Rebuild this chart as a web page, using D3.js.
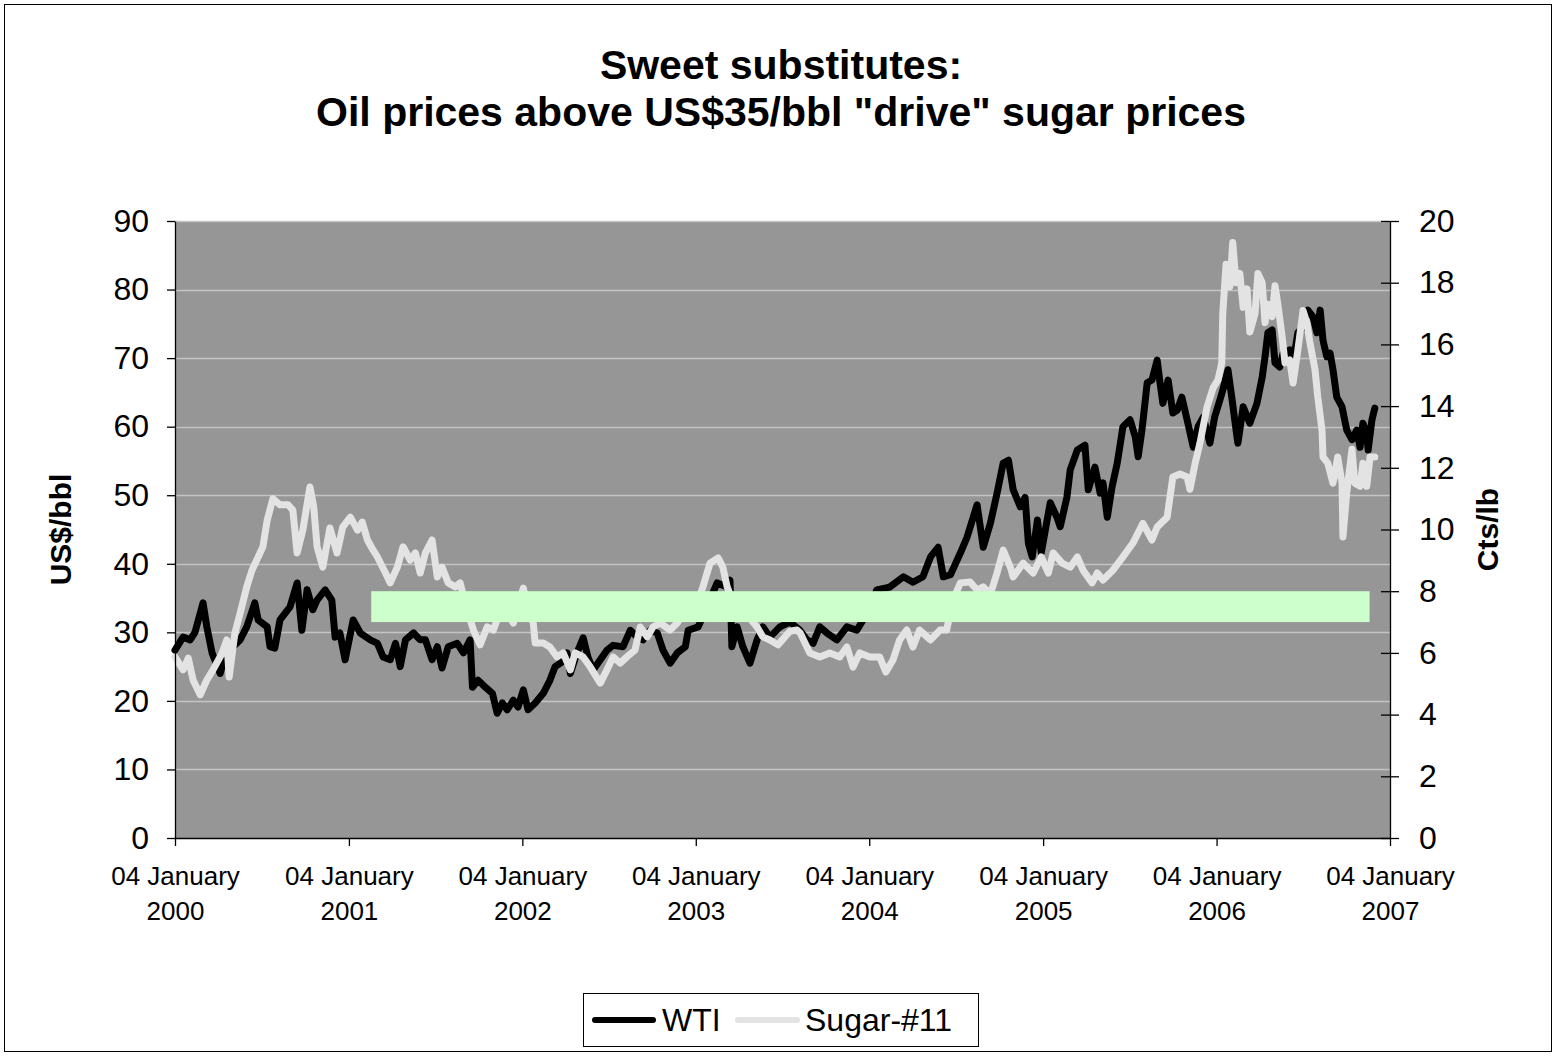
<!DOCTYPE html>
<html>
<head>
<meta charset="utf-8">
<script src="https://cdn.jsdelivr.net/npm/d3@7"></script>
<style>
  html, body { margin: 0; padding: 0; background: #fff; }
  svg { display: block; }
  text { font-family: "Liberation Sans", Arial, sans-serif; fill: #000; }
</style>
</head>
<body>
<svg id="chart" width="1556" height="1056"></svg>
<script>
// ---- data ----
const titleLines = ["Sweet substitutes:", "Oil prices above US$35/bbl \"drive\" sugar prices"];
const leftAxisTitle = "US$/bbl";
const rightAxisTitle = "Cts/lb";
const seriesNames = ["WTI", "Sugar-#11"];
const yearTicks = ["2000-01-04", "2001-01-04", "2002-01-04", "2003-01-04", "2004-01-04", "2005-01-04", "2006-01-04", "2007-01-04"];
const leftTicks = [0, 10, 20, 30, 40, 50, 60, 70, 80, 90];
const rightTicks = [0, 2, 4, 6, 8, 10, 12, 14, 16, 18, 20];

// shaded sugar band (cts/lb)
const bandDates = ["2001-02-20", "2006-11-22"];
const bandRange = [7, 8];

// WTI crude, US$/bbl
const wti = [
  ["2000-01-04",27.4],["2000-01-21",29.3],["2000-02-05",28.9],["2000-02-15",30.0],["2000-03-03",34.3],["2000-03-11",30.8],["2000-03-22",27.0],["2000-04-08",24.0],["2000-04-14",25.5],["2000-05-05",27.9],["2000-05-20",28.9],["2000-06-03",30.8],["2000-06-20",34.3],["2000-06-27",31.8],["2000-07-16",30.8],["2000-07-22",27.9],["2000-08-01",27.7],["2000-08-12",31.8],["2000-09-02",33.7],["2000-09-17",37.2],["2000-09-27",30.3],["2000-10-08",36.2],["2000-10-20",33.3],["2000-10-29",34.7],["2000-11-15",36.2],["2000-11-29",34.7],["2000-12-06",29.3],["2000-12-16",29.9],["2000-12-27",26.0],
  ["2001-01-13",31.8],["2001-01-28",29.9],["2001-02-18",28.9],["2001-03-05",28.4],["2001-03-17",26.4],["2001-04-01",26.0],["2001-04-12",28.4],["2001-04-22",25.0],["2001-05-03",28.9],["2001-05-20",29.9],["2001-06-03",28.9],["2001-06-14",28.9],["2001-06-28",26.0],["2001-07-09",27.9],["2001-07-19",24.8],["2001-08-01",27.9],["2001-08-20",28.4],["2001-09-02",27.0],["2001-09-16",28.9],["2001-09-21",22.0],["2001-10-03",23.0],["2001-10-18",22.0],["2001-11-02",21.1],["2001-11-12",18.2],["2001-11-23",19.7],["2001-12-03",18.7],["2001-12-16",20.1],["2001-12-26",19.1],
  ["2002-01-06",21.6],["2002-01-16",18.7],["2002-01-31",19.7],["2002-02-17",21.1],["2002-03-03",23.0],["2002-03-14",25.0],["2002-03-29",25.7],["2002-04-08",27.0],["2002-04-15",24.0],["2002-04-29",27.0],["2002-05-12",29.2],["2002-05-22",26.4],["2002-06-02",24.5],["2002-06-17",26.0],["2002-07-01",27.4],["2002-07-14",28.1],["2002-08-04",27.9],["2002-08-19",30.3],["2002-09-03",29.3],["2002-09-15",28.9],["2002-09-30",30.3],["2002-10-15",29.9],["2002-10-27",27.4],["2002-11-11",25.5],["2002-11-26",27.0],["2002-12-13",27.9],["2002-12-19",30.3],
  ["2003-01-09",30.8],["2003-01-23",33.0],["2003-02-18",37.2],["2003-03-11",36.6],["2003-03-17",37.6],["2003-03-21",27.9],["2003-04-01",30.8],["2003-04-13",27.9],["2003-04-28",25.5],["2003-05-13",28.9],["2003-05-25",30.8],["2003-06-09",29.3],["2003-06-30",30.8],["2003-07-21",31.5],["2003-08-11",30.3],["2003-08-26",28.9],["2003-09-08",28.4],["2003-09-22",30.8],["2003-10-07",29.9],["2003-10-28",28.9],["2003-11-18",30.8],["2003-12-09",30.3],["2003-12-22",31.8],
  ["2004-01-05",33.5],["2004-01-20",36.2],["2004-02-16",36.6],["2004-03-16",38.1],["2004-04-05",37.3],["2004-04-26",38.1],["2004-05-12",41.0],["2004-05-28",42.4],["2004-06-08",38.1],["2004-06-23",38.4],["2004-07-14",41.6],["2004-07-28",43.9],["2004-08-10",46.8],["2004-08-18",48.6],["2004-08-31",42.4],["2004-09-15",45.9],["2004-09-29",50.3],["2004-10-12",54.7],["2004-10-23",55.1],["2004-11-02",50.8],["2004-11-17",48.3],["2004-11-27",49.7],["2004-12-04",43.0],["2004-12-12",41.0],["2004-12-23",46.4],["2004-12-31",41.6],
  ["2005-01-19",48.9],["2005-02-02",46.8],["2005-02-09",45.4],["2005-02-23",49.7],["2005-03-02",53.7],["2005-03-17",56.6],["2005-04-02",57.3],["2005-04-09",50.8],["2005-04-23",54.1],["2005-05-04",50.3],["2005-05-10",51.8],["2005-05-19",46.8],["2005-05-29",51.2],["2005-06-09",54.7],["2005-06-21",60.0],["2005-07-06",61.0],["2005-07-17",58.5],["2005-07-23",55.6],["2005-07-31",59.5],["2005-08-11",66.4],["2005-08-21",66.8],["2005-09-01",69.7],["2005-09-07",66.4],["2005-09-13",63.4],["2005-09-24",66.8],["2005-10-04",62.0],["2005-10-13",62.4],["2005-10-23",64.3],["2005-11-03",61.0],["2005-11-16",57.0],["2005-11-26",60.0],["2005-12-07",61.4],["2005-12-21",57.6],["2005-12-31",61.4],
  ["2006-01-11",63.9],["2006-01-17",65.3],["2006-01-28",68.3],["2006-02-05",64.3],["2006-02-16",58.5],["2006-02-18",57.6],["2006-03-01",62.9],["2006-03-15",60.5],["2006-03-30",63.4],["2006-04-10",67.2],["2006-04-16",70.2],["2006-04-22",73.7],["2006-05-01",74.1],["2006-05-07",69.3],["2006-05-17",68.7],["2006-05-24",70.7],["2006-06-07",71.2],["2006-06-14",69.3],["2006-06-24",73.7],["2006-07-05",74.5],["2006-07-15",77.0],["2006-07-26",76.0],["2006-08-03",73.7],["2006-08-10",77.0],["2006-08-16",72.6],["2006-08-24",70.2],["2006-08-31",70.7],["2006-09-06",68.3],["2006-09-14",64.3],["2006-09-25",62.9],["2006-10-05",59.5],["2006-10-16",58.1],["2006-10-26",59.5],["2006-11-02",57.0],["2006-11-08",60.5],["2006-11-16",59.1],["2006-11-19",56.6],["2006-11-27",61.0],["2006-12-03",62.7]
];

// Sugar #11, US cents/lb
const sugar = [
  ["2000-01-04",5.87],["2000-01-21",5.45],["2000-02-01",5.83],["2000-02-11",5.12],["2000-02-26",4.64],["2000-03-11",5.12],["2000-03-24",5.45],["2000-04-12",5.99],["2000-04-22",6.42],["2000-04-27",5.22],["2000-05-09",6.64],["2000-05-20",7.28],["2000-06-03",8.14],["2000-06-14",8.68],["2000-06-27",9.11],["2000-07-07",9.44],["2000-07-16",10.3],["2000-07-28",11.0],["2000-08-12",10.8],["2000-08-29",10.8],["2000-09-08",10.63],["2000-09-17",9.24],["2000-09-29",9.98],["2000-10-14",11.38],["2000-10-22",10.73],["2000-10-29",9.44],["2000-11-10",8.78],["2000-11-25",10.05],["2000-12-10",9.24],["2000-12-22",10.08],
  ["2001-01-07",10.4],["2001-01-22",9.98],["2001-02-01",10.24],["2001-02-12",9.66],["2001-02-24",9.33],["2001-03-05",9.11],["2001-03-22",8.59],["2001-04-01",8.27],["2001-04-16",8.78],["2001-04-28",9.44],["2001-05-13",9.01],["2001-05-24",9.24],["2001-06-03",8.59],["2001-06-14",9.24],["2001-06-28",9.66],["2001-07-09",8.46],["2001-07-19",8.78],["2001-08-01",8.27],["2001-08-16",8.14],["2001-08-26",8.27],["2001-09-08",7.5],["2001-09-23",6.74],["2001-10-07",6.26],["2001-10-22",6.84],["2001-11-04",6.74],["2001-11-12",7.07],["2001-11-29",7.4],["2001-12-16",6.97],
  ["2002-01-06",8.1],["2002-01-16",7.4],["2002-01-27",6.97],["2002-01-31",6.32],["2002-02-17",6.32],["2002-03-03",6.19],["2002-03-18",5.87],["2002-03-31",6.0],["2002-04-15",5.45],["2002-04-25",6.0],["2002-05-12",5.87],["2002-05-27",5.54],["2002-06-17",5.02],["2002-07-01",5.45],["2002-07-14",5.87],["2002-07-29",5.67],["2002-08-12",5.87],["2002-08-29",6.09],["2002-09-09",6.84],["2002-09-24",6.52],["2002-10-06",6.84],["2002-10-21",6.97],["2002-11-11",6.74],["2002-11-26",6.97],["2002-12-17",7.5],
  ["2003-01-07",7.6],["2003-01-19",8.14],["2003-02-03",8.91],["2003-02-20",9.08],["2003-03-02",8.78],["2003-03-11",8.14],["2003-03-27",7.5],["2003-04-18",7.3],["2003-05-13",6.84],["2003-05-25",6.52],["2003-06-09",6.42],["2003-06-26",6.26],["2003-07-21",6.7],["2003-08-05",6.74],["2003-08-12",6.64],["2003-09-01",6.0],["2003-09-22",5.87],["2003-10-13",6.0],["2003-11-03",5.87],["2003-11-18",6.19],["2003-12-01",5.54],["2003-12-15",6.0],
  ["2004-01-05",5.87],["2004-01-26",5.87],["2004-02-08",5.38],["2004-02-23",5.77],["2004-03-08",6.42],["2004-03-23",6.74],["2004-04-05",6.19],["2004-04-19",6.74],["2004-05-12",6.42],["2004-06-01",6.74],["2004-06-15",6.74],["2004-06-28",7.71],["2004-07-14",8.27],["2004-08-03",8.3],["2004-08-18",8.04],["2004-08-31",8.14],["2004-09-15",7.9],["2004-09-29",8.59],["2004-10-12",9.33],["2004-10-27",8.78],["2004-11-02",8.46],["2004-11-23",8.91],["2004-12-14",8.59],["2004-12-31",9.11],
  ["2005-01-15",8.59],["2005-01-25",9.24],["2005-02-13",8.91],["2005-03-02",8.78],["2005-03-17",9.11],["2005-03-29",8.68],["2005-04-17",8.27],["2005-04-28",8.59],["2005-05-10",8.36],["2005-05-31",8.68],["2005-06-21",9.11],["2005-07-12",9.56],["2005-08-02",10.2],["2005-08-21",9.66],["2005-09-01",10.08],["2005-09-22",10.4],["2005-09-28",11.05],["2005-10-04",11.7],["2005-10-19",11.8],["2005-11-03",11.7],["2005-11-09",11.3],["2005-11-20",12.15],["2005-11-30",12.8],["2005-12-15",13.97],["2005-12-28",14.6],
  ["2006-01-07",14.85],["2006-01-15",15.4],["2006-01-17",17.0],["2006-01-24",18.6],["2006-02-01",17.86],["2006-02-07",19.3],["2006-02-14",18.0],["2006-02-22",18.3],["2006-03-01",17.2],["2006-03-09",17.8],["2006-03-15",16.4],["2006-03-26",17.0],["2006-04-01",18.3],["2006-04-10",18.0],["2006-04-16",16.7],["2006-04-22",17.3],["2006-05-01",16.9],["2006-05-07",17.9],["2006-05-13",17.3],["2006-05-22",16.25],["2006-05-28",15.4],["2006-06-07",15.5],["2006-06-14",14.75],["2006-06-24",15.8],["2006-07-05",17.1],["2006-07-13",16.7],["2006-07-19",16.1],["2006-07-30",15.2],["2006-08-05",14.3],["2006-08-14",13.2],["2006-08-16",12.35],["2006-08-26",12.15],["2006-09-06",11.5],["2006-09-16",12.35],["2006-09-25",11.5],["2006-09-27",9.76],["2006-10-05",11.2],["2006-10-16",12.6],["2006-10-22",11.5],["2006-11-02",11.4],["2006-11-08",12.15],["2006-11-16",11.4],["2006-11-23",12.35],["2006-12-03",12.35]
];

// ---- layout ----
const W = 1556, H = 1056;
const plot = { left: 175, right: 1390, top: 221, bottom: 838 };
const colors = { wti: "#000000", sugar: "#e3e3e3", plotBg: "#969696", grid: "#c4c4c4", band: "#ccffcc" };
const font = "'Liberation Sans', Arial, sans-serif";

const parse = d3.utcParse("%Y-%m-%d");
const svg = d3.select("#chart");

svg.append("rect").attr("x", 0).attr("y", 0).attr("width", W).attr("height", H).attr("fill", "#fff");
svg.append("rect").attr("x", 4.5).attr("y", 4.5).attr("width", W - 9).attr("height", H - 9)
  .attr("fill", "none").attr("stroke", "#000").attr("stroke-width", 1);

const x = d3.scaleUtc()
  .domain([parse(yearTicks[0]), parse(yearTicks[yearTicks.length - 1])])
  .range([plot.left, plot.right]);
const yL = d3.scaleLinear().domain([0, 90]).range([plot.bottom, plot.top]);
const yR = d3.scaleLinear().domain([0, 20]).range([plot.bottom, plot.top]);

// plot background
svg.append("rect")
  .attr("x", plot.left).attr("y", plot.top)
  .attr("width", plot.right - plot.left).attr("height", plot.bottom - plot.top)
  .attr("fill", colors.plotBg);

// horizontal gridlines on the left-axis ticks
svg.append("g").selectAll("line")
  .data(leftTicks.filter(v => v > 0))
  .join("line")
  .attr("x1", plot.left).attr("x2", plot.right)
  .attr("y1", d => Math.round(yL(d)) + 0.5).attr("y2", d => Math.round(yL(d)) + 0.5)
  .attr("stroke", colors.grid).attr("stroke-width", 1.5);

// series
const wtiPts = wti.map(([d, v]) => [parse(d), v]);
const sugarPts = sugar.map(([d, v]) => [parse(d), v]);

const lineL = d3.line().x(d => x(d[0])).y(d => yL(d[1]));
const lineR = d3.line().x(d => x(d[0])).y(d => yR(d[1]));

svg.append("path").datum(wtiPts)
  .attr("d", lineL).attr("fill", "none")
  .attr("stroke", colors.wti).attr("stroke-width", 7)
  .attr("stroke-linejoin", "round").attr("stroke-linecap", "round");

svg.append("path").datum(sugarPts)
  .attr("d", lineR).attr("fill", "none")
  .attr("stroke", colors.sugar).attr("stroke-width", 7)
  .attr("stroke-linejoin", "round").attr("stroke-linecap", "round");

// 7-8 cts/lb band on top of the series
svg.append("rect")
  .attr("x", x(parse(bandDates[0])))
  .attr("width", x(parse(bandDates[1])) - x(parse(bandDates[0])))
  .attr("y", yR(bandRange[1]))
  .attr("height", yR(bandRange[0]) - yR(bandRange[1]))
  .attr("fill", colors.band);

// left axis
const gL = svg.append("g").attr("transform", `translate(${plot.left},0)`)
  .call(d3.axisLeft(yL).tickValues(leftTicks).tickSize(8).tickSizeOuter(0).tickPadding(18).tickFormat(d3.format("d")));
gL.select(".domain").attr("stroke", "#000").attr("stroke-width", 1.3);
gL.selectAll(".tick line").attr("stroke", "#000").attr("stroke-width", 1.3);
gL.selectAll(".tick text").attr("font-family", font).attr("font-size", 32).attr("fill", "#000");

// right axis (ticks cross the axis line)
const gR = svg.append("g").attr("transform", `translate(${plot.right},0)`)
  .call(d3.axisRight(yR).tickValues(rightTicks).tickSize(9).tickSizeOuter(0).tickPadding(20).tickFormat(d3.format("d")));
gR.select(".domain").attr("stroke", "#000").attr("stroke-width", 1.3);
gR.selectAll(".tick line").attr("x1", -9).attr("stroke", "#000").attr("stroke-width", 1.3);
gR.selectAll(".tick text").attr("font-family", font).attr("font-size", 32).attr("fill", "#000");

// bottom date axis
const gB = svg.append("g").attr("transform", `translate(0,${plot.bottom})`)
  .call(d3.axisBottom(x).tickValues(yearTicks.map(parse)).tickSize(8).tickSizeOuter(0).tickFormat(() => ""));
gB.select(".domain").attr("stroke", "#000").attr("stroke-width", 1.3);
gB.selectAll(".tick line").attr("stroke", "#000").attr("stroke-width", 1.3);
const fmtDay = d3.utcFormat("%d %B");
const fmtYear = d3.utcFormat("%Y");
gB.selectAll(".tick text").each(function(d) {
  const t = d3.select(this).text(null).attr("y", null).attr("dy", null)
    .attr("font-family", font).attr("font-size", 26).attr("fill", "#000").attr("text-anchor", "middle");
  t.append("tspan").attr("x", 0).attr("y", 47).text(fmtDay(d));
  t.append("tspan").attr("x", 0).attr("y", 82).text(fmtYear(d));
});

// axis titles
svg.append("text")
  .attr("transform", `translate(71,${(plot.top + plot.bottom) / 2}) rotate(-90)`)
  .attr("text-anchor", "middle").attr("font-family", font).attr("font-weight", "bold").attr("font-size", 30)
  .text(leftAxisTitle);
svg.append("text")
  .attr("transform", `translate(1498,${(plot.top + plot.bottom) / 2}) rotate(-90)`)
  .attr("text-anchor", "middle").attr("font-family", font).attr("font-weight", "bold").attr("font-size", 30)
  .text(rightAxisTitle);

// title
svg.append("text").attr("x", 781).attr("y", 79)
  .attr("text-anchor", "middle").attr("font-family", font).attr("font-weight", "bold").attr("font-size", 41)
  .text(titleLines[0]);
svg.append("text").attr("x", 781).attr("y", 126)
  .attr("text-anchor", "middle").attr("font-family", font).attr("font-weight", "bold").attr("font-size", 41)
  .text(titleLines[1]);

// legend
const lg = svg.append("g");
lg.append("rect").attr("x", 583.5).attr("y", 993.5).attr("width", 395).attr("height", 53)
  .attr("fill", "#fff").attr("stroke", "#000").attr("stroke-width", 1);
const legendItems = [
  { name: seriesNames[0], color: colors.wti, x0: 595, x1: 653, tx: 662 },
  { name: seriesNames[1], color: colors.sugar, x0: 738, x1: 797, tx: 805 }
];
legendItems.forEach(it => {
  lg.append("line").attr("x1", it.x0).attr("x2", it.x1).attr("y1", 1020).attr("y2", 1020)
    .attr("stroke", it.color).attr("stroke-width", 6).attr("stroke-linecap", "round");
  lg.append("text").attr("x", it.tx).attr("y", 1031)
    .attr("font-family", font).attr("font-size", 32).text(it.name);
});
</script>
</body>
</html>
